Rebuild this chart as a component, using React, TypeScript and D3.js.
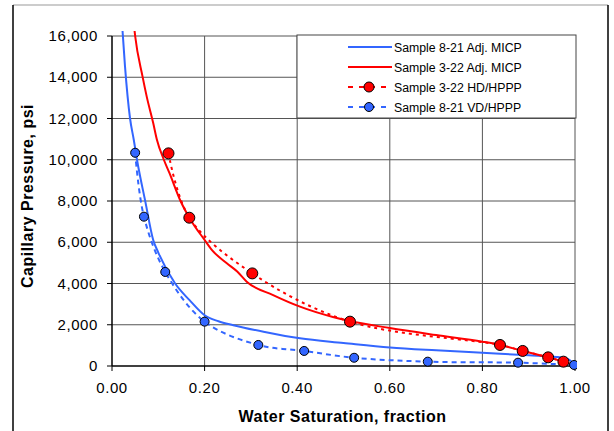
import React from 'react'
import * as d3 from 'd3'

// MICP curves (solid)
const blueMicpSw = [0.022, 0.028, 0.039, 0.047, 0.054, 0.072, 0.089, 0.1, 0.136, 0.168, 0.2, 0.23, 0.262, 0.33, 0.406, 0.5, 0.6, 0.7, 0.8, 0.9, 0.96, 0.985, 1.0]
const blueMicpPc = [16500, 14550, 12000, 10970, 10000, 7970, 6110, 5500, 4010, 3180, 2460, 2170, 1980, 1650, 1340, 1120, 900, 760, 640, 520, 440, 330, 50]

const redMicpSw = [0.048, 0.05, 0.066, 0.075, 0.089, 0.097, 0.112, 0.124, 0.148, 0.167, 0.2, 0.216, 0.248, 0.271, 0.291, 0.348, 0.406, 0.477, 0.514, 0.6, 0.7, 0.8, 0.838, 0.887, 0.942, 0.975, 1.0]
const redMicpPc = [16400, 16000, 14030, 13060, 11780, 10970, 10000, 9360, 8000, 7190, 6110, 5620, 4980, 4570, 4090, 3440, 2880, 2380, 2180, 1840, 1500, 1180, 1020, 730, 420, 210, 50]

// HPPP points (dashed + markers)
const redHpppSw = [0.122, 0.167, 0.303, 0.514, 0.838, 0.887, 0.942, 0.975]
const redHpppPc = [10310, 7190, 4490, 2150, 1020, 730, 420, 210]

const blueHpppSw = [0.05, 0.069, 0.115, 0.2, 0.316, 0.415, 0.523, 0.682, 0.877, 0.998]
const blueHpppPc = [10340, 7240, 4560, 2150, 1020, 730, 400, 210, 160, 50]

const xTicks = [0, 0.2, 0.4, 0.6, 0.8, 1.0]
const yTicks = [0, 2000, 4000, 6000, 8000, 10000, 12000, 14000, 16000]

const legendLabels = ['Sample 8-21 Adj. MICP', 'Sample 3-22 Adj. MICP', 'Sample 3-22 HD/HPPP', 'Sample 8-21 VD/HPPP']

const BLUE = '#3366ff'
const RED = '#ff0000'
const FONT = '"Liberation Sans", Arial, sans-serif'

const zip = (xs: number[], ys: number[]) => xs.map((x, i) => [x, ys[i]] as [number, number])

export default function App() {
  const W = 614
  const H = 431
  const left = 112, right = 575, top = 36, bottom = 366

  const x = d3.scaleLinear().domain([0, 1]).range([left, right])
  const y = d3.scaleLinear().domain([0, 16000]).range([bottom, top])

  const solid = d3.line<[number, number]>().x(d => x(d[0])).y(d => y(d[1])).curve(d3.curveMonotoneX)
  const smooth = d3.line<[number, number]>().x(d => x(d[0])).y(d => y(d[1])).curve(d3.curveCatmullRom.alpha(0.5))

  const blueMicp = zip(blueMicpSw, blueMicpPc)
  const redMicp = zip(redMicpSw, redMicpPc)
  const redHppp = zip(redHpppSw, redHpppPc)
  const blueHppp = zip(blueHpppSw, blueHpppPc)

  const fmt = d3.format(',')

  const legX = 297, legY = 35, legW = 279, legH = 83
  const rowY = [47, 67, 87, 107]

  return (
    <svg width={W} height={H} style={{ position: 'absolute', left: 0, top: 0, background: '#fff' }} fontFamily={FONT}>
      <defs>
        <clipPath id="plotClip">
          <rect x={left} y={31} width={right - left + 2} height={bottom - 31 + 4} />
        </clipPath>
        <clipPath id="ytitleClip">
          <rect x={0} y={104} width={60} height={300} />
        </clipPath>
      </defs>
      <rect x={0} y={0} width={W} height={H} fill="#fff" />
      {/* chart frame */}
      <line x1={13} y1={5} x2={608} y2={5} stroke="#999" strokeWidth={1} />
      <line x1={13} y1={5} x2={13} y2={H} stroke="#000" strokeWidth={1.5} />
      <line x1={608} y1={5} x2={608} y2={H} stroke="#000" strokeWidth={1.5} />

      {/* gridlines */}
      {yTicks.filter(t => t > 0).map(t => (
        <line key={'gy' + t} x1={left} x2={right} y1={y(t)} y2={y(t)} stroke="#555" strokeWidth={1} />
      ))}
      {xTicks.filter(t => t > 0).map(t => (
        <line key={'gx' + t} x1={x(t)} x2={x(t)} y1={top} y2={bottom} stroke="#555" strokeWidth={1} />
      ))}

      {/* axes */}
      <line x1={left} x2={left} y1={top} y2={bottom} stroke="#000" strokeWidth={1.5} />
      <line x1={left} x2={right} y1={bottom} y2={bottom} stroke="#000" strokeWidth={1.5} />
      {yTicks.map(t => (
        <g key={'ty' + t}>
          <line x1={left - 5} x2={left} y1={y(t)} y2={y(t)} stroke="#000" />
          <text x={98} y={y(t) + 5} textAnchor="end" fontSize={15} letterSpacing={0.6} fill="#000">{fmt(t)}</text>
        </g>
      ))}
      {xTicks.map(t => (
        <g key={'tx' + t}>
          <line x1={x(t)} x2={x(t)} y1={bottom} y2={bottom + 5} stroke="#000" />
          <text x={x(t)} y={393} textAnchor="middle" fontSize={15} letterSpacing={0.6} fill="#000">{t.toFixed(2)}</text>
        </g>
      ))}

      {/* axis titles */}
      <text x={342.5} y={422} textAnchor="middle" fontSize={16} fontWeight="bold" letterSpacing={0.5} fill="#000">
        Water Saturation, fraction
      </text>
      <g clipPath="url(#ytitleClip)">
        <text transform="translate(33,288) rotate(-90)" textAnchor="start" fontSize={16} fontWeight="bold" letterSpacing={0.5} fill="#000">
          Capillary Pressure, psia
        </text>
      </g>

      {/* series */}
      <g clipPath="url(#plotClip)">
        <path d={solid(blueMicp) || ''} fill="none" stroke={BLUE} strokeWidth={2} />
        <path d={solid(redMicp) || ''} fill="none" stroke={RED} strokeWidth={2} />
        <path d={smooth(redHppp) || ''} fill="none" stroke={RED} strokeWidth={2} strokeDasharray="3,4" />
        <path d={smooth(blueHppp) || ''} fill="none" stroke={BLUE} strokeWidth={2} strokeDasharray="5,4" />
        {redHppp.map((d, i) => (
          <circle key={'rm' + i} cx={x(d[0])} cy={y(d[1])} r={5.5} fill={RED} stroke="#000" strokeWidth={1} />
        ))}
        {blueHppp.map((d, i) => (
          <circle key={'bm' + i} cx={x(d[0])} cy={y(d[1])} r={4.5} fill={BLUE} stroke="#000" strokeWidth={1} />
        ))}
      </g>

      {/* legend */}
      <rect x={legX} y={legY} width={legW} height={legH} fill="#fff" stroke="#444" strokeWidth={1} />
      {legendLabels.map((lab, i) => {
        const color = i === 0 || i === 3 ? BLUE : RED
        const dashed = i >= 2
        return (
          <g key={lab}>
            <line x1={348} x2={392} y1={rowY[i]} y2={rowY[i]} stroke={color} strokeWidth={2}
              strokeDasharray={dashed ? '5,6' : undefined} />
            {dashed && (
              <circle cx={369} cy={rowY[i]} r={i === 2 ? 5 : 4.5} fill={color} stroke="#000" strokeWidth={1} />
            )}
            <text x={394} y={rowY[i] + 4.5} fontSize={12.3} fill="#000">{lab}</text>
          </g>
        )
      })}
    </svg>
  )
}
